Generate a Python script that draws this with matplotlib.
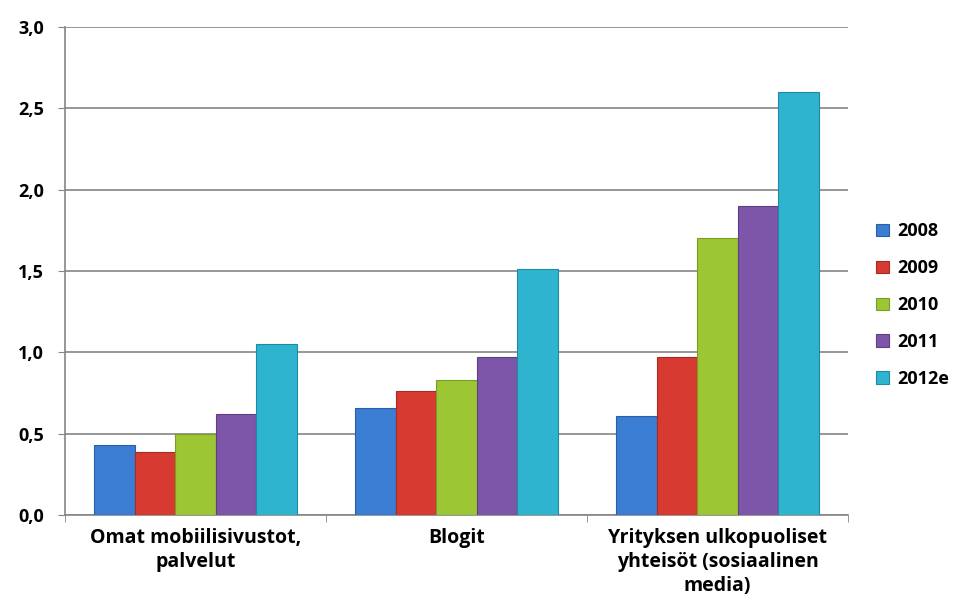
import matplotlib.pyplot as plt
import numpy as np

categories = ["Omat mobiilisivustot,\npalvelut", "Blogit",
              "Yrityksen ulkopuoliset\nyhteisöt (sosiaalinen\nmedia)"]
years = ["2008", "2009", "2010", "2011", "2012e"]
v2008 = [0.43, 0.66, 0.61]
v2009 = [0.39, 0.76, 0.97]
v2010 = [0.50, 0.83, 1.70]
v2011 = [0.62, 0.97, 1.90]
v2012 = [1.05, 1.51, 2.60]
series = [v2008, v2009, v2010, v2011, v2012]
colors = ["#3b7dd2", "#d63a30", "#9cc633", "#7d56aa", "#2fb4d0"]
edges = ["#2a5fa8", "#a82a22", "#7a9c25", "#5e3f85", "#1f8aa2"]

plt.rcParams['font.family'] = ['Open Sans', 'DejaVu Sans']

fig = plt.figure(figsize=(9.63, 6.16), dpi=100)
ax = fig.add_axes([65 / 963, 1 - 515 / 616, 783 / 963, 488 / 616])

x = np.arange(len(categories))
w = 0.155
for i, (vals, c, e, lab) in enumerate(zip(series, colors, edges, years)):
    ax.bar(x + (i - 2) * w, vals, w, color=c, edgecolor=e, linewidth=0.8,
           label=lab, zorder=3)

ax.set_xlim(-0.5, 2.5)
ax.set_ylim(0, 3.0)
yt = np.arange(0, 3.01, 0.5)
ax.set_yticks(yt)
ax.set_yticklabels([f"{v:.1f}".replace(".", ",") for v in yt],
                   fontsize=13, fontweight='bold')
ax.yaxis.grid(True, color="#858585", linewidth=1.2, zorder=0)
ax.set_axisbelow(True)

ax.set_xticks(x)
ax.set_xticklabels(categories, fontsize=14, fontweight='bold', linespacing=1.3)
ax.tick_params(axis='x', length=0, pad=9)
ax.set_xticks([-0.5, 0.5, 1.5, 2.5], minor=True)
ax.tick_params(axis='x', which='minor', length=5, color="#858585")
ax.tick_params(axis='y', length=5, color="#858585", pad=10)

for s in ['top', 'right']:
    ax.spines[s].set_visible(False)
for s in ['left', 'bottom']:
    ax.spines[s].set_color("#858585")
    ax.spines[s].set_linewidth(1.2)

leg = ax.legend(loc='center left', bbox_to_anchor=(1.015, 0.43), frameon=False,
                prop={'weight': 'bold', 'size': 13}, handlelength=0.7,
                handleheight=0.7, labelspacing=1.05, handletextpad=0.5)

fig.savefig("out.png", dpi=100)
